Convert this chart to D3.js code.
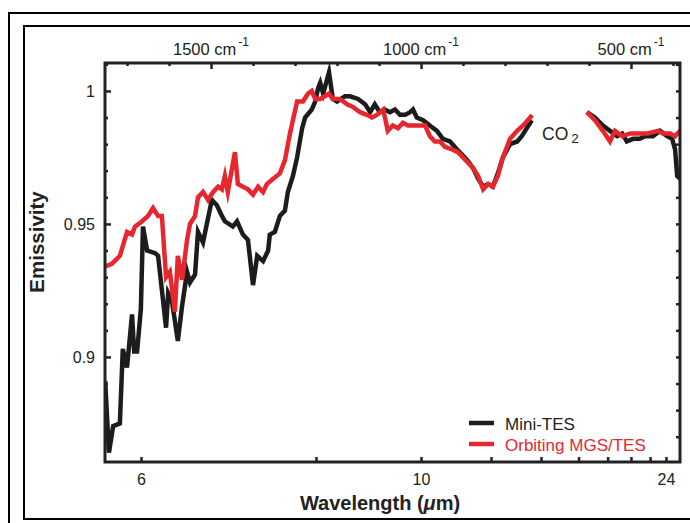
<!DOCTYPE html>
<html>
<head>
<meta charset="utf-8">
<script src="https://cdn.jsdelivr.net/npm/d3@7"></script>
<style>
  html, body { margin: 0; padding: 0; background: #fff; }
  text { font-family: "Liberation Sans", Arial, Helvetica, sans-serif; fill: #222; }
</style>
</head>
<body>
<div id="chart"></div>
<script>
// wavenumber (cm-1) and emissivity; null = gap (CO2 band)
var miniWn = [1752,1743,1733,1717,1710,1700,1688,1683,1676,1667,1662,1652,1633,1626,1607,1602,1593,1579,1569,1557,1550,1538,1531,1519,1510,1498,1486,1474,1467,1448,1438,1424,1412,1400,1390,1376,1364,1360,1348,1336,1324,1317,1305,1295,1283,1276,1260,1252,1245,1240,1233,1219,1210,1200,1181,1169,1150,1133,1121,1110,1098,1086,1074,1062,1050,1038,1026,1019,1010,995,979,962,948,931,914,902,890,876,864,852,840,829,817,805,788,771,760,748,736,
  670,
  605,586,567,550,533,521,510,495,479,467,448,431,414,402,395,390,383];
var miniEm = [0.891,0.864,0.874,0.875,0.903,0.896,0.916,0.902,0.902,0.918,0.949,0.940,0.939,0.938,0.911,0.924,0.921,0.906,0.919,0.932,0.928,0.931,0.947,0.943,0.950,0.959,0.957,0.953,0.951,0.949,0.951,0.946,0.944,0.927,0.938,0.936,0.940,0.946,0.947,0.953,0.955,0.962,0.968,0.975,0.986,0.990,0.993,0.996,1.001,1.003,0.999,1.007,0.997,0.996,0.998,0.998,0.997,0.995,0.992,0.995,0.992,0.993,0.992,0.993,0.991,0.991,0.992,0.993,0.990,0.989,0.987,0.985,0.982,0.981,0.978,0.976,0.974,0.971,0.967,0.964,0.965,0.964,0.969,0.975,0.980,0.981,0.983,0.986,0.989,
  null,
  0.992,0.990,0.987,0.985,0.983,0.984,0.981,0.982,0.982,0.983,0.983,0.985,0.983,0.982,0.978,0.968,0.967];

var mgsWn = [1752,1736,1717,1700,1688,1681,1664,1650,1638,1626,1617,1607,1598,1586,1579,1569,1557,1550,1538,1531,1519,1507,1495,1483,1474,1467,1460,1443,1436,1424,1412,1400,1388,1376,1367,1352,1336,1324,1312,1305,1295,1281,1269,1260,1252,1240,1229,1219,1210,1193,1176,1162,1145,1129,1117,1105,1090,1079,1067,1055,1043,1031,1019,1002,990,979,967,955,943,926,912,900,888,876,864,852,840,829,817,805,788,771,757,740,736,
  670,
  605,586,567,550,538,521,502,479,460,436,424,407,395,383];
var mgsEm = [0.934,0.935,0.938,0.947,0.946,0.949,0.951,0.953,0.956,0.953,0.953,0.930,0.932,0.917,0.938,0.929,0.944,0.950,0.953,0.960,0.962,0.959,0.962,0.964,0.963,0.968,0.962,0.977,0.965,0.964,0.963,0.961,0.964,0.962,0.965,0.967,0.969,0.974,0.984,0.989,0.996,0.996,0.999,1.000,0.997,0.997,0.998,0.999,0.997,0.997,0.995,0.994,0.992,0.991,0.990,0.991,0.993,0.985,0.987,0.986,0.988,0.987,0.987,0.987,0.987,0.983,0.981,0.981,0.979,0.978,0.977,0.975,0.973,0.971,0.968,0.963,0.965,0.964,0.968,0.975,0.982,0.985,0.987,0.990,0.991,
  null,
  0.992,0.989,0.985,0.981,0.985,0.983,0.984,0.984,0.984,0.985,0.984,0.984,0.983,0.985];

var seriesNames = ["Mini-TES", "Orbiting MGS/TES"];
var seriesColors = ["#1c1c1c", "#e8262d"];

var topMajor = [1500, 1000, 500];           // cm-1, labelled
var topMinor = [1700,1600,1400,1300,1200,1100,900,800,700,600,400];
var bottomTicksUm = [6,8,10,12,14,16,18,20,22,24];
var bottomLabelsUm = [6, 10, 24];
var yMajor = [0.9, 0.95, 1];
var yMinor = [0.87,0.88,0.89,0.91,0.92,0.93,0.94,0.96,0.97,0.98,0.99,1.01];

var W = 690, H = 523;
var margin = {top: 63, right: 10, bottom: 61, left: 105};
var width = 680 - margin.left, height = 462 - margin.top;

var svg = d3.select("#chart").append("svg")
  .attr("width", W).attr("height", H);

// the two page frames
svg.append("path")
  .attr("d", "M9,530 V13 H700")
  .attr("fill", "none").attr("stroke", "#000").attr("stroke-width", 2);
svg.append("path")
  .attr("d", "M700,519 H24 V26 H700")
  .attr("fill", "none").attr("stroke", "#000").attr("stroke-width", 2);

var g = svg.append("g").attr("transform", `translate(${margin.left},${margin.top})`);

var x = d3.scaleLinear().domain([1752.4, 383.3]).range([0, width]);
var y = d3.scaleLinear().domain([0.8605, 1.0105]).range([height, 0]);

g.append("clipPath").attr("id", "clip")
  .append("rect").attr("width", width).attr("height", height);

var line = d3.line()
  .defined(d => d[1] != null)
  .x(d => x(d[0]))
  .y(d => y(d[1]));

var mini = miniWn.map((w, i) => [w, miniEm[i]]);
var mgs = mgsWn.map((w, i) => [w, mgsEm[i]]);

[mini, mgs].forEach(function(data, i) {
  g.append("path")
    .datum(data)
    .attr("clip-path", "url(#clip)")
    .attr("fill", "none")
    .attr("stroke", seriesColors[i])
    .attr("stroke-width", 4.5)
    .attr("stroke-linejoin", "miter")
    .attr("stroke-miterlimit", 6)
    .attr("d", line);
});

function styleAxis(sel) {
  sel.select(".domain").remove();
  sel.selectAll("line").attr("stroke", "#222").attr("stroke-width", 2.5);
  sel.selectAll("text").attr("font-size", 16).attr("fill", "#222")
    .style("font-family", '"Liberation Sans", Arial, sans-serif');
}

// left & right axes
g.append("g").call(d3.axisLeft(y).tickValues(yMajor).tickSize(-6).tickPadding(10)
  .tickFormat(d => d === 1 ? "1" : d3.format("")(d))).call(styleAxis);
g.append("g").call(d3.axisLeft(y).tickValues(yMinor).tickSize(-3).tickFormat("")).call(styleAxis);
g.append("g").attr("transform", `translate(${width},0)`)
  .call(d3.axisRight(y).tickValues(yMajor.concat(yMinor)).tickSize(-4).tickFormat("")).call(styleAxis);

// top axis in wavenumber
g.append("g").call(d3.axisTop(x).tickValues(topMajor).tickSize(-6).tickFormat("")).call(styleAxis);
g.append("g").call(d3.axisTop(x).tickValues(topMinor).tickSize(-3).tickFormat("")).call(styleAxis);
topMajor.forEach(function(v) {
  var t = g.append("text").attr("x", x(v)).attr("y", -8)
    .attr("text-anchor", "middle").attr("font-size", 16.5);
  t.append("tspan").text(v + " cm");
  t.append("tspan").attr("dx", 2).attr("dy", -9).attr("font-size", 12).text("-1");
});

// bottom axis in wavelength (um) on the wavenumber scale
g.append("g").attr("transform", `translate(0,${height})`)
  .call(d3.axisBottom(x).tickValues(bottomTicksUm.map(u => 1e4 / u)).tickSize(-5).tickPadding(12)
    .tickFormat(w => {
      var u = Math.round(1e4 / w);
      return bottomLabelsUm.includes(u) ? u : "";
    }))
  .call(styleAxis);

// plot frame
g.append("rect").attr("width", width).attr("height", height)
  .attr("fill", "none").attr("stroke", "#222").attr("stroke-width", 3);

// axis titles
svg.append("text")
  .attr("x", 380).attr("y", 510)
  .attr("text-anchor", "middle").attr("font-size", 20).attr("font-weight", "bold")
  .html('Wavelength (<tspan font-style="italic">μ</tspan>m)');
svg.append("text")
  .attr("transform", "translate(44,242) rotate(-90)")
  .attr("text-anchor", "middle").attr("font-size", 20.5).attr("font-weight", "bold")
  .text("Emissivity");

// CO2 label
var co2 = svg.append("text").attr("x", 542).attr("y", 140).attr("font-size", 17.5);
co2.append("tspan").text("CO");
co2.append("tspan").attr("dx", 3).attr("dy", 3).attr("font-size", 13.5).text("2");

// legend
seriesNames.forEach(function(name, i) {
  var ly = 423 + i * 21;
  svg.append("line")
    .attr("x1", 469).attr("x2", 494).attr("y1", ly).attr("y2", ly)
    .attr("stroke", seriesColors[i]).attr("stroke-width", 4.5);
  svg.append("text")
    .attr("x", 505).attr("y", ly + 7).attr("font-size", 17)
    .style("fill", i === 0 ? "#222" : seriesColors[1])
    .text(name);
});
</script>
</body>
</html>
